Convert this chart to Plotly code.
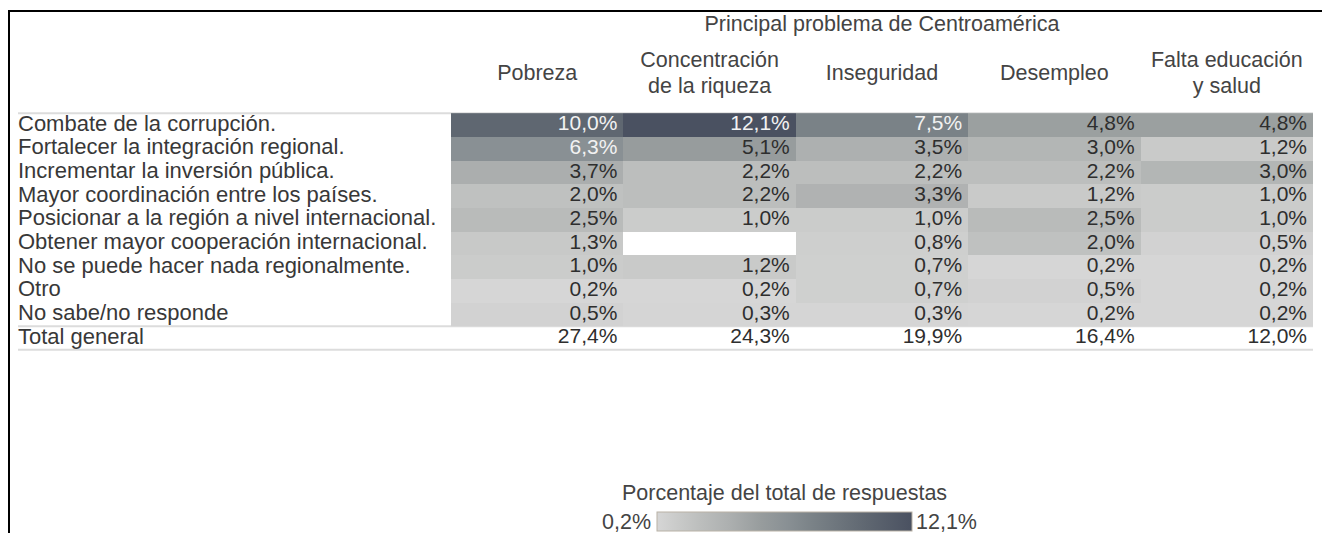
import plotly.graph_objects as go

# ---------------- data ----------------
title_cols = "Principal problema de Centroamérica"
columns = ["Pobreza", "Concentración\nde la riqueza", "Inseguridad", "Desempleo", "Falta educación\ny salud"]
rows = [
    "Combate de la corrupción.",
    "Fortalecer la integración regional.",
    "Incrementar la inversión pública.",
    "Mayor coordinación entre los países.",
    "Posicionar a la región a nivel internacional.",
    "Obtener mayor cooperación internacional.",
    "No se puede hacer nada regionalmente.",
    "Otro",
    "No sabe/no responde",
]
pobreza = [10.0, 6.3, 3.7, 2.0, 2.5, 1.3, 1.0, 0.2, 0.5]
concentracion = [12.1, 5.1, 2.2, 2.2, 1.0, None, 1.2, 0.2, 0.3]
inseguridad = [7.5, 3.5, 2.2, 3.3, 1.0, 0.8, 0.7, 0.7, 0.3]
desempleo = [4.8, 3.0, 2.2, 1.2, 2.5, 2.0, 0.2, 0.5, 0.2]
falta_educacion = [4.8, 1.2, 3.0, 1.0, 1.0, 0.5, 0.2, 0.2, 0.2]
total_label = "Total general"
totals = [27.4, 24.3, 19.9, 16.4, 12.0]
legend_title = "Porcentaje del total de respuestas"

series = [pobreza, concentracion, inseguridad, desempleo, falta_educacion]

# ---------------- layout geometry (page pixels) ----------------
OFF = 8                      # body margin of the html page
W, H = 1330 - 2 * OFF, 541 - 2 * OFF
COL_W = 172.4                # px per column
COL0 = 537.2                 # page x of first column centre
ROW_H = 23.67                # px per row
ROW0 = 125.0                 # page y of first row centre
FS_LAB = 22
FS_HEAD = 21.5
FS_NUM = 21
FONT = "Liberation Sans"

def ux(p):
    return (p - COL0) / COL_W

def uy(p):
    return (p - ROW0) / ROW_H

def px(p):
    return (p - OFF) / W

def py(p):
    return 1 - (p - OFF) / H

x_range = [ux(OFF), ux(OFF + W)]
y_range = [uy(OFF + H), uy(OFF)]

def fmt(v):
    return ("%.1f" % v).replace(".", ",") + "%"

ncol = len(columns)
nrow = len(rows)
z = [[series[c][r] for c in range(ncol)] for r in range(nrow)]
vals = [v for s in series for v in s if v is not None]
zmin, zmax = min(vals), max(vals)

colorscale = [
    [0.0, "#d6d6d6"],
    [0.07, "#cbcccb"],
    [0.17, "#bcbebd"],
    [0.28, "#adb0b0"],
    [0.41, "#979c9d"],
    [0.51, "#899094"],
    [0.61, "#7a8287"],
    [0.82, "#5f6771"],
    [1.0, "#4a5161"],
]

fig = go.Figure()

fig.add_trace(go.Heatmap(
    z=z, x=list(range(ncol)), y=list(range(nrow)),
    zmin=zmin, zmax=zmax, colorscale=colorscale, xgap=0, ygap=0,
    hoverinfo="skip",
    colorbar=dict(
        orientation="h", lenmode="pixels", len=255, thickness=19,
        x=px(784.5), xanchor="center",
        y=py(512), yanchor="top",
        xpad=0, ypad=0,
        outlinecolor="#b9b2a6", outlinewidth=1,
        showticklabels=False, ticks="",
    ),
))

# cell values (right aligned)
cx, cy, ct, cc = [], [], [], []
for r in range(nrow):
    for c in range(ncol):
        v = series[c][r]
        if v is None:
            continue
        cx.append(c + 0.5 - 6 / COL_W)
        cy.append(r)
        ct.append(fmt(v))
        cc.append("#f2f2f2" if v >= 6 else "#2e2e2e")
for c in range(ncol):
    cx.append(c + 0.5 - 6 / COL_W)
    cy.append(nrow)
    ct.append(fmt(totals[c]))
    cc.append("#2e2e2e")
fig.add_trace(go.Scatter(
    x=cx, y=cy, text=ct, mode="text", textposition="middle left",
    textfont=dict(size=FS_NUM, color=cc, family=FONT), hoverinfo="skip",
))

# row labels
lx = ux(18)
fig.add_trace(go.Scatter(
    x=[lx] * (nrow + 1), y=list(range(nrow + 1)), text=rows + [total_label],
    mode="text", textposition="middle right",
    textfont=dict(size=FS_LAB, color="#383838", family=FONT), hoverinfo="skip",
))

# column headers
hx, hy, ht = [], [], []
for c, name in enumerate(columns):
    parts = name.split("\n")
    if len(parts) == 1:
        hx.append(c); hy.append(uy(75)); ht.append(parts[0])
    else:
        hx += [c, c]; hy += [uy(62), uy(88)]; ht += parts
hx.append((ncol - 1) / 2); hy.append(uy(26)); ht.append(title_cols)
fig.add_trace(go.Scatter(
    x=hx, y=hy, text=ht, mode="text", textposition="middle center",
    textfont=dict(size=FS_HEAD, color="#444444", family=FONT), hoverinfo="skip",
))

# colorbar title and end labels
lab_font = dict(size=FS_HEAD, color="#444444", family=FONT)
fig.add_annotation(x=px(784.5), y=py(493), xref="paper", yref="paper",
                   text=legend_title, showarrow=False, xanchor="center", yanchor="middle",
                   font=lab_font)
fig.add_annotation(x=px(653), y=py(522), xref="paper", yref="paper",
                   text=fmt(zmin), showarrow=False, xanchor="right", yanchor="middle",
                   font=lab_font)
fig.add_annotation(x=px(914), y=py(522), xref="paper", yref="paper",
                   text=fmt(zmax), showarrow=False, xanchor="left", yanchor="middle",
                   font=lab_font)

# separator rules
line_style = dict(color="#dcdcdc", width=2)
x_left, x_right = ux(18), ncol - 0.5
for yb in (-0.5, nrow - 0.5, nrow + 0.5):
    fig.add_shape(type="line", xref="x", yref="y", x0=x_left, x1=x_right, y0=yb, y1=yb,
                  line=line_style, layer="below")

# black frame (left and top)
fig.add_shape(type="line", xref="paper", yref="paper", x0=px(9), x1=px(9), y0=0, y1=py(10),
              line=dict(color="black", width=2))
fig.add_shape(type="line", xref="paper", yref="paper", x0=px(8), x1=1, y0=py(11), y1=py(11),
              line=dict(color="black", width=2))

fig.update_xaxes(range=x_range, visible=False, fixedrange=True)
fig.update_yaxes(range=y_range, visible=False, fixedrange=True)
fig.update_layout(
    width=W, height=H, autosize=False,
    margin=dict(l=0, r=0, t=0, b=0, pad=0, autoexpand=False),
    paper_bgcolor="white", plot_bgcolor="white",
    showlegend=False,
    font=dict(family=FONT, size=FS_NUM, color="#333333"),
)

fig.write_html("out.html")
